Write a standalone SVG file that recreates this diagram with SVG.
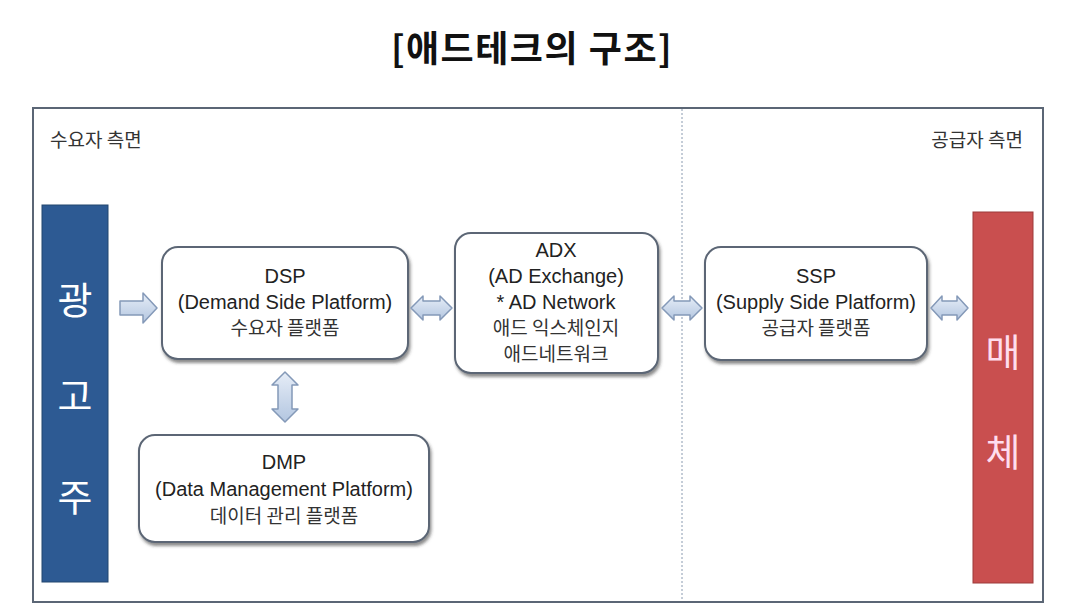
<svg xmlns="http://www.w3.org/2000/svg" width="1066" height="616" viewBox="0 0 1066 616">
<style>
.title{font-family:"Noto Sans CJK KR","Liberation Sans",sans-serif;font-weight:bold;font-size:36px;letter-spacing:1.5px;fill:#111;text-anchor:middle}
.side{font-family:"Noto Sans CJK KR",sans-serif;font-size:19px;fill:#333}
.box{fill:#fff;stroke:#5b6675;stroke-width:2;filter:url(#sh)}
.t{font-family:"Liberation Sans","Noto Sans CJK KR",sans-serif;font-size:20px;fill:#222;text-anchor:middle}
.k{font-family:"Noto Sans CJK KR",sans-serif;font-size:19px;fill:#333;text-anchor:middle}
.bar{font-family:"Noto Sans CJK KR",sans-serif;font-size:38px;fill:#fff;text-anchor:middle}
.arr{fill:url(#ag);stroke:#8499b8;stroke-width:1.5;stroke-linejoin:round}
</style>
<defs>
<filter id="sh" x="-10%" y="-10%" width="125%" height="130%">
<feDropShadow dx="1.5" dy="3" stdDeviation="1.5" flood-color="#333" flood-opacity="0.55"/>
</filter>
<linearGradient id="ag" x1="0" y1="0" x2="0" y2="1">
<stop offset="0" stop-color="#e6edf7"/>
<stop offset="1" stop-color="#b3c6e0"/>
</linearGradient>
</defs>
<rect width="1066" height="616" fill="#fff"/>
<text class="title" x="532" y="62">[애드테크의 구조]</text>
<rect x="33" y="108" width="1010" height="494" fill="#fff" stroke="#5b6675" stroke-width="2"/>
<line x1="682" y1="109" x2="682" y2="601" stroke="#8a9ab0" stroke-width="1" stroke-dasharray="2,2"/>
<text class="side" x="50" y="147">수요자 측면</text>
<text class="side" x="1023" y="147" text-anchor="end">공급자 측면</text>

<g id="advertiser">
<rect x="42" y="205" width="66" height="377" fill="#2d5a93" stroke="#23466f" stroke-width="1"/>
<text class="bar" x="75" y="314">광</text>
<text class="bar" x="75" y="410">고</text>
<text class="bar" x="75" y="511">주</text>
</g>
<g id="media">
<rect x="973" y="212" width="60" height="371" fill="#c94f4f" stroke="#9c3a3a" stroke-width="1"/>
<text class="bar" x="1003" y="366" style="fill:#fde">매</text>
<text class="bar" x="1003" y="466" style="fill:#fde">체</text>
</g>
<g id="dsp">
<rect class="box" x="162" y="247" width="246" height="112" rx="16"/>
<text class="t" x="285" y="283">DSP</text>
<text class="t" x="285" y="309">(Demand Side Platform)</text>
<text class="k" x="285" y="335">수요자 플랫폼</text>
</g>
<g id="adx">
<rect class="box" x="455" y="233" width="203" height="140" rx="16"/>
<text class="t" x="556" y="257">ADX</text>
<text class="t" x="556" y="283">(AD Exchange)</text>
<text class="t" x="556" y="309">* AD Network</text>
<text class="k" x="556" y="335">애드 익스체인지</text>
<text class="k" x="556" y="361">애드네트워크</text>
</g>
<g id="ssp">
<rect class="box" x="705" y="247" width="222" height="113" rx="16"/>
<text class="t" x="816" y="283">SSP</text>
<text class="t" x="816" y="309">(Supply Side Platform)</text>
<text class="k" x="816" y="335">공급자 플랫폼</text>
</g>
<g id="dmp">
<rect class="box" x="139" y="435" width="290" height="107" rx="16"/>
<text class="t" x="284" y="469">DMP</text>
<text class="t" x="284" y="496">(Data Management Platform)</text>
<text class="k" x="284" y="523">데이터 관리 플랫폼</text>
</g>
<g id="connectors">
<path class="arr" d="M120,301 h23 v-8 l14,15 l-14,15 v-8 h-23 z"/>
<path class="arr" d="M411,308 l12,-12 v5 h17 v-5 l12,12 l-12,12 v-5 h-17 v5 z"/>
<path class="arr" d="M662,308 l12,-12 v5 h16 v-5 l12,12 l-12,12 v-5 h-16 v5 z"/>
<path class="arr" d="M931,308 l11,-12 v5 h15 v-5 l11,12 l-11,12 v-5 h-15 v5 z"/>
<path class="arr" d="M285,372 l13,13 h-6 v24 h6 l-13,13 l-13,-13 h6 v-24 h-6 z"/>
</g>
</svg>
